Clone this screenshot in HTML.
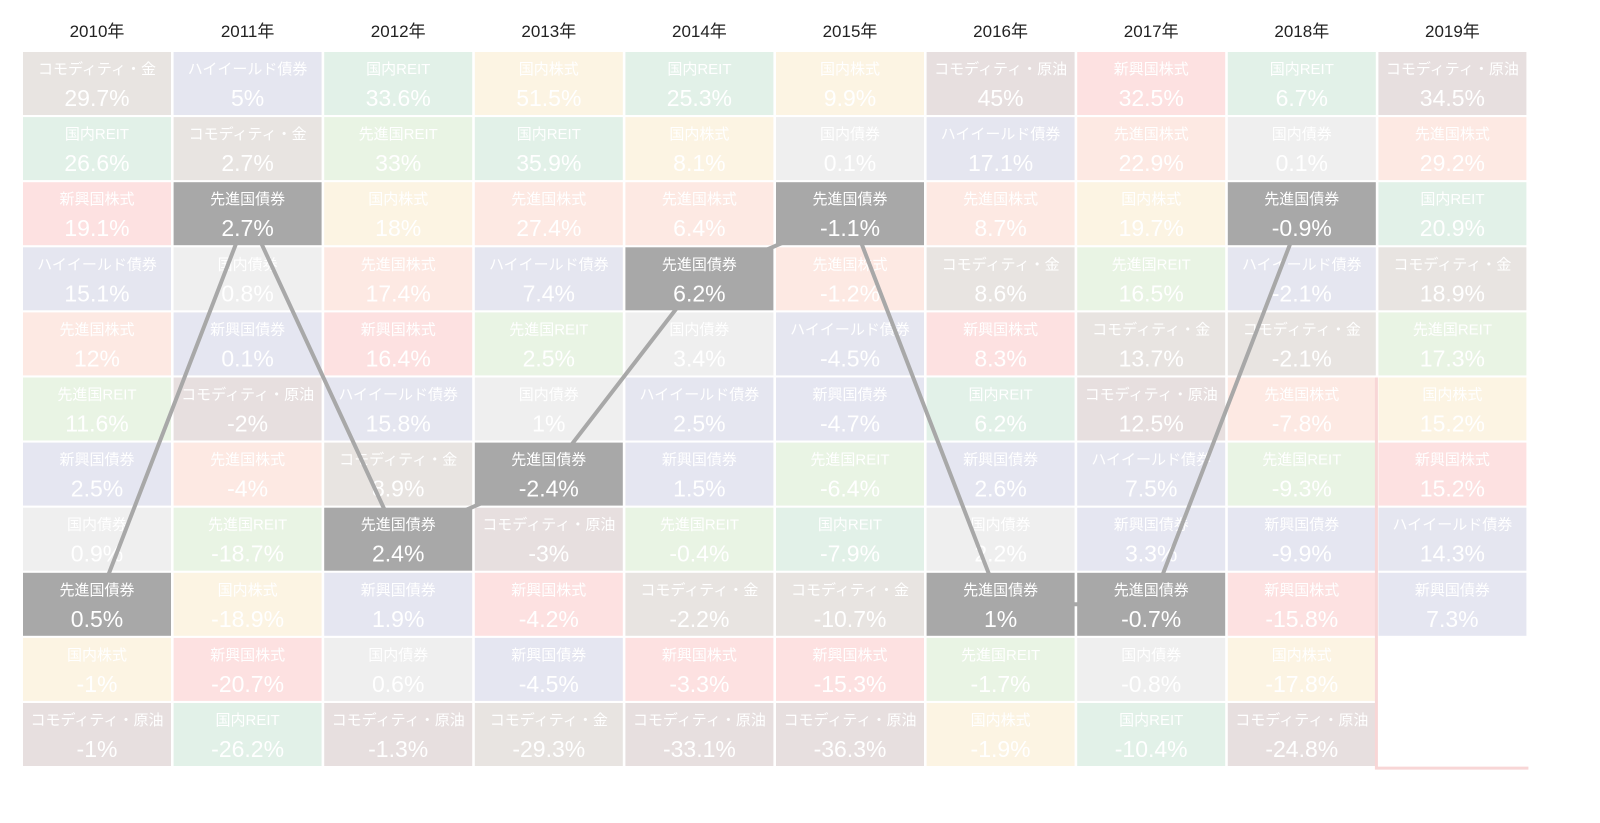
<!DOCTYPE html>
<html><head><meta charset="utf-8"><style>
body{margin:0;background:#fff;width:1600px;height:818px;overflow:hidden;font-family:"Liberation Sans","Noto Sans CJK JP",sans-serif}
svg text{font-family:"Liberation Sans","Noto Sans CJK JP",sans-serif}
</style></head><body>
<svg id="chart" width="1600" height="818" xmlns="http://www.w3.org/2000/svg"></svg>
<script>
const years=["2010年","2011年","2012年","2013年","2014年","2015年","2016年","2017年","2018年","2019年"];
const names2010=["コモディティ・金","国内REIT","新興国株式","ハイイールド債券","先進国株式","先進国REIT","新興国債券","国内債券","先進国債券","国内株式","コモディティ・原油"];
const vals2010=[29.7,26.6,19.1,15.1,12,11.6,2.5,0.9,0.5,-1,-1];
const names2011=["ハイイールド債券","コモディティ・金","先進国債券","国内債券","新興国債券","コモディティ・原油","先進国株式","先進国REIT","国内株式","新興国株式","国内REIT"];
const vals2011=[5,2.7,2.7,0.8,0.1,-2,-4,-18.7,-18.9,-20.7,-26.2];
const names2012=["国内REIT","先進国REIT","国内株式","先進国株式","新興国株式","ハイイールド債券","コモディティ・金","先進国債券","新興国債券","国内債券","コモディティ・原油"];
const vals2012=[33.6,33,18,17.4,16.4,15.8,8.9,2.4,1.9,0.6,-1.3];
const names2013=["国内株式","国内REIT","先進国株式","ハイイールド債券","先進国REIT","国内債券","先進国債券","コモディティ・原油","新興国株式","新興国債券","コモディティ・金"];
const vals2013=[51.5,35.9,27.4,7.4,2.5,1,-2.4,-3,-4.2,-4.5,-29.3];
const names2014=["国内REIT","国内株式","先進国株式","先進国債券","国内債券","ハイイールド債券","新興国債券","先進国REIT","コモディティ・金","新興国株式","コモディティ・原油"];
const vals2014=[25.3,8.1,6.4,6.2,3.4,2.5,1.5,-0.4,-2.2,-3.3,-33.1];
const names2015=["国内株式","国内債券","先進国債券","先進国株式","ハイイールド債券","新興国債券","先進国REIT","国内REIT","コモディティ・金","新興国株式","コモディティ・原油"];
const vals2015=[9.9,0.1,-1.1,-1.2,-4.5,-4.7,-6.4,-7.9,-10.7,-15.3,-36.3];
const names2016=["コモディティ・原油","ハイイールド債券","先進国株式","コモディティ・金","新興国株式","国内REIT","新興国債券","国内債券","先進国債券","先進国REIT","国内株式"];
const vals2016=[45,17.1,8.7,8.6,8.3,6.2,2.6,2.2,1,-1.7,-1.9];
const names2017=["新興国株式","先進国株式","国内株式","先進国REIT","コモディティ・金","コモディティ・原油","ハイイールド債券","新興国債券","先進国債券","国内債券","国内REIT"];
const vals2017=[32.5,22.9,19.7,16.5,13.7,12.5,7.5,3.3,-0.7,-0.8,-10.4];
const names2018=["国内REIT","国内債券","先進国債券","ハイイールド債券","コモディティ・金","先進国株式","先進国REIT","新興国債券","新興国株式","国内株式","コモディティ・原油"];
const vals2018=[6.7,0.1,-0.9,-2.1,-2.1,-7.8,-9.3,-9.9,-15.8,-17.8,-24.8];
const names2019=["コモディティ・原油","先進国株式","国内REIT","コモディティ・金","先進国REIT","国内株式","新興国株式","ハイイールド債券","新興国債券"];
const vals2019=[34.5,29.2,20.9,18.9,17.3,15.2,15.2,14.3,7.3];
const allNames=[names2010,names2011,names2012,names2013,names2014,names2015,names2016,names2017,names2018,names2019];
const allVals=[vals2010,vals2011,vals2012,vals2013,vals2014,vals2015,vals2016,vals2017,vals2018,vals2019];
const highlight="先進国債券";
const colors={"コモディティ・金":"#e8e4e1","ハイイールド債券":"#e5e6f0","国内REIT":"#e2f1e8","国内株式":"#fcf4e3","新興国株式":"#fde1e1","先進国REIT":"#e9f4e4","先進国株式":"#fde9e3","国内債券":"#efefef","新興国債券":"#e5e6f1","コモディティ・原油":"#e7dfdf","先進国債券":"#a8a8a8"};
const NS="http://www.w3.org/2000/svg";
const svg=document.getElementById('chart');
const X0=23,PX=150.6,CW=148,Y0=52,PY=65.1,CH=63;
const colX=i=>X0+i*PX;
const rowY=r=>Y0+r*PY;
function mk(tag,attrs,parent){const e=document.createElementNS(NS,tag);for(const k in attrs)e.setAttribute(k,attrs[k]);(parent||svg).appendChild(e);return e;}
// year headers
years.forEach((y,i)=>{
  const t=mk('text',{x:colX(i)+CW/2,y:37,'text-anchor':'middle','font-size':17,fill:'#222'});
  
  
  t.textContent=y;
});
function cell(ci,ri,name,val,dark){
  const g=mk('g',{});
  
  
  const x=colX(ci),y=rowY(ri);
  mk('rect',{x:x,y:y,width:CW,height:CH,fill:colors[name]||'#eee'},g);
  const a=mk('text',{x:x+CW/2,y:y+22,'text-anchor':'middle','font-size':15,fill:'#fff'},g);a.textContent=name;
  const b=mk('text',{x:x+CW/2,y:y+54,'text-anchor':'middle','font-size':23,fill:'#fff'},g);b.textContent=val+'%';
}
// regular cells
allNames.forEach((ns,ci)=>ns.forEach((n,ri)=>{if(n!==highlight)cell(ci,ri,n,allVals[ci][ri],false);}));
// outlines (faint pink)
const outline=mk('path',{d:`M${colX(9)-2},${rowY(5)} V${rowY(11)} H${colX(9)+CW+2}`,fill:'none',stroke:'#f8d6d6','stroke-width':3});


// connecting line through highlighted asset
const pts=[];
allNames.forEach((ns,ci)=>{const r=ns.indexOf(highlight);if(r>=0)pts.push([colX(ci)+CW/2,rowY(r)+CH/2]);});
const line=mk('polyline',{points:pts.map(p=>p.join(',')).join(' '),fill:'none',stroke:'#a8a8a8','stroke-width':4});


// highlighted cells
allNames.forEach((ns,ci)=>ns.forEach((n,ri)=>{if(n===highlight)cell(ci,ri,n,allVals[ci][ri],true);}));
</script>
</body></html>
